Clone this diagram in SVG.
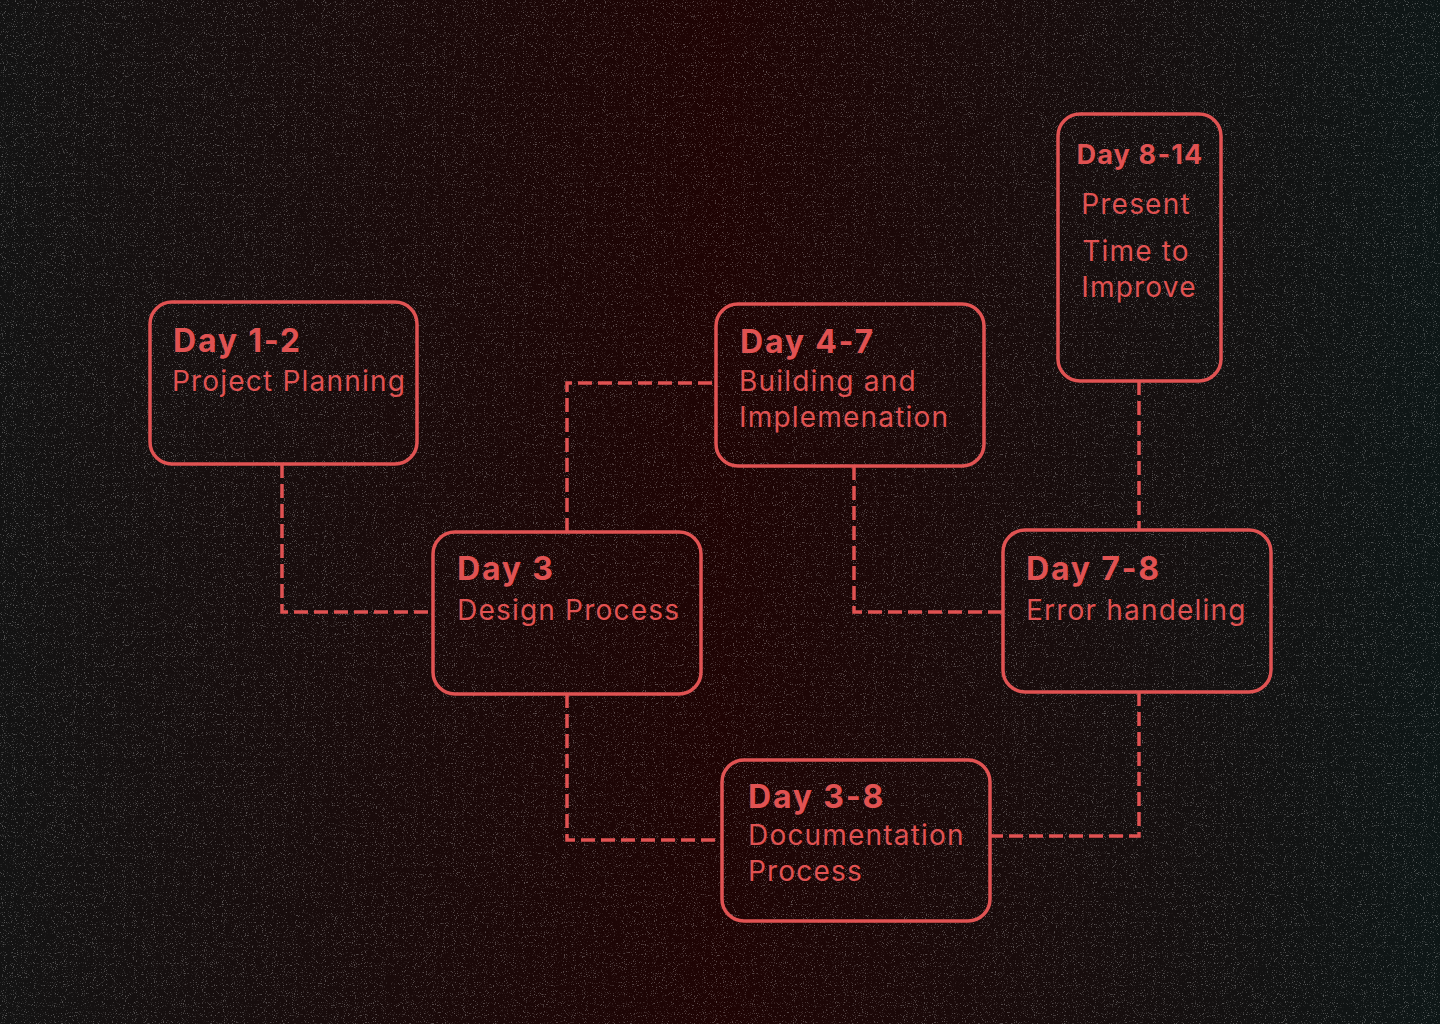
<svg xmlns="http://www.w3.org/2000/svg" width="1440" height="1024" viewBox="0 0 1440 1024">
<defs>
<linearGradient id="bg" x1="0" y1="0" x2="1" y2="0">
<stop offset="0" stop-color="#131313"/>
<stop offset="0.38" stop-color="#1c0707"/>
<stop offset="0.5" stop-color="#1f0404"/>
<stop offset="0.75" stop-color="#170d0d"/>
<stop offset="1" stop-color="#0e1717"/>
</linearGradient>
<filter id="grain" x="0" y="0" width="100%" height="100%">
<feTurbulence type="fractalNoise" baseFrequency="0.9" numOctaves="2" seed="3" result="n"/>
<feColorMatrix in="n" type="matrix" values="0 0 0 0 0.6  0 0 0 0 0.6  0 0 0 0 0.6  0 0 0 6 -3.6"/>
</filter>
<style>
.box{fill:none;stroke:#e05252;stroke-width:3.5}
.con{fill:none;stroke:#e05252;stroke-width:3.5;stroke-dasharray:14 6}
.t{font-family:Inter,"Liberation Sans",sans-serif;font-weight:700;font-size:32px;fill:#e05252;letter-spacing:1.8px}
.s{font-family:Inter,"Liberation Sans",sans-serif;font-size:28px;fill:#e05252;letter-spacing:1.2px}
.c{text-anchor:middle}
</style>
</defs>
<rect width="1440" height="1024" fill="url(#bg)"/>
<rect width="1440" height="1024" filter="url(#grain)" opacity="0.35"/>
<g id="connectors">
<path class="con" d="M282 464 V612 H433"/>
<path class="con" d="M567 532 V383 H716"/>
<path class="con" d="M567 694 V840 H722"/>
<path class="con" d="M854 466 V612 H1003"/>
<path class="con" d="M1139 381 V530"/>
<path class="con" d="M1139 692 V836 H990"/>
</g>
<g id="day1-2">
<rect class="box" x="150" y="302" width="267" height="162" rx="22"/>
<text class="t" x="173" y="352">Day 1-2</text>
<text class="s" x="172" y="391">Project Planning</text>
</g>
<g id="day3">
<rect class="box" x="433" y="532" width="268" height="162" rx="22"/>
<text class="t" x="457" y="580">Day 3</text>
<text class="s" x="457" y="620">Design Process</text>
</g>
<g id="day4-7">
<rect class="box" x="716" y="304" width="268" height="162" rx="22"/>
<text class="t" x="740" y="353">Day 4-7</text>
<text class="s" x="739" y="391">Building and</text>
<text class="s" x="739" y="427">Implemenation</text>
</g>
<g id="day8-14">
<rect class="box" x="1058" y="114" width="163" height="267" rx="22"/>
<text class="t c" x="1140" y="164" style="font-size:27px;letter-spacing:1.2px">Day 8-14</text>
<text class="s c" x="1136" y="214">Present</text>
<text class="s c" x="1136" y="261">Time to</text>
<text class="s c" x="1139" y="297">Improve</text>
</g>
<g id="day7-8">
<rect class="box" x="1003" y="530" width="268" height="162" rx="22"/>
<text class="t" x="1026" y="580">Day 7-8</text>
<text class="s" x="1026" y="620">Error handeling</text>
</g>
<g id="day3-8">
<rect class="box" x="722" y="760" width="268" height="161" rx="22"/>
<text class="t" x="748" y="808">Day 3-8</text>
<text class="s" x="748" y="845">Documentation</text>
<text class="s" x="748" y="881">Process</text>
</g>
</svg>
